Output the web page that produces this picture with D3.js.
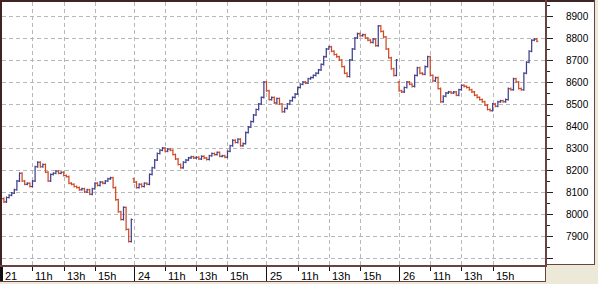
<!DOCTYPE html>
<html><head><meta charset="utf-8">
<script src="https://cdn.jsdelivr.net/npm/d3@7"></script>
<style>body{margin:0;background:#ece9d8;} svg{display:block;}</style>
</head><body>
<svg id="c" width="598" height="284"></svg>
<script>
// ---- data ----
const days = ["21", "24", "25", "26"];
const hourLabels = ["11h", "13h", "15h"];
const hourOffsets = [2, 4, 6];          // hours after the 9:00 session start
const sessionHours = 8.5;               // 9:00 - 17:30
const barHours = 1 / 6;                 // 10-minute bars
const firstOpens = [8090, 8160, 8600, 8600];
const closes21 = [8070,8055,8075,8085,8095,8110,8150,8185,8150,8135,8140,8125,8150,8215,8235,8215,8225,8190,8150,8180,8185,8195,8185,8190,8175,8170,8140,8135,8125,8120,8110,8115,8100,8110,8090,8115,8140,8130,8145,8140,8150,8160,8165,8120,8065,8010,7975,8030,7930,7875,7975];
const closes24 = [8145,8120,8135,8125,8140,8135,8180,8210,8245,8275,8290,8300,8285,8295,8290,8270,8250,8225,8210,8235,8245,8255,8260,8255,8258,8250,8262,8255,8248,8265,8275,8270,8280,8262,8265,8258,8285,8310,8335,8325,8340,8310,8320,8370,8395,8420,8450,8475,8500,8530,8600];
const closes25 = [8560,8520,8530,8505,8525,8500,8465,8480,8500,8515,8530,8545,8575,8590,8600,8595,8615,8620,8630,8640,8655,8680,8715,8750,8760,8740,8725,8715,8700,8670,8640,8625,8700,8750,8800,8820,8810,8815,8800,8790,8780,8795,8765,8855,8830,8805,8750,8710,8660,8630,8700];
const closes26 = [8560,8555,8575,8600,8590,8580,8630,8665,8640,8635,8670,8715,8630,8605,8620,8570,8510,8535,8550,8555,8550,8555,8540,8565,8585,8580,8575,8565,8555,8540,8530,8520,8510,8495,8475,8470,8500,8490,8510,8515,8510,8520,8570,8565,8615,8600,8570,8565,8640,8690,8740,8790,8795,8785];
const dayCloses = [closes21, closes24, closes25, closes26];
const yTicks = [7800,7900,8000,8100,8200,8300,8400,8500,8600,8700,8800,8900];
const yLabels = ["7900","8000","8100","8200","8300","8400","8500","8600","8700","8800","8900"];

// ---- layout ----
const svg = d3.select("#c");
const W = 598, H = 284;
const x = d3.scaleLinear().domain([0, 34.9]).range([1.3, 545.7]);
const y = d3.scaleLinear().domain([7900, 8900]).range([236, 16]);
const border = "#6a4242";
const up = "#40408e", down = "#cf4a24";

// panels
svg.append("rect").attr("x",0).attr("y",0).attr("width",W).attr("height",H).attr("fill","#ece9d8");
svg.append("rect").attr("x",0).attr("y",0).attr("width",595).attr("height",265).attr("fill","#fff");
svg.append("rect").attr("x",0).attr("y",265).attr("width",546).attr("height",17).attr("fill","#fff");

// grid
const grid = svg.append("g").attr("stroke","#b8b8b8").attr("stroke-dasharray","4,3").attr("shape-rendering","crispEdges");
yTicks.forEach(v => {
  grid.append("line").attr("x1",2).attr("x2",545).attr("y1",Math.round(y(v))+0.5).attr("y2",Math.round(y(v))+0.5);
});
const vGrid = [];
days.forEach((d,i) => {
  const s = i * sessionHours;
  if (i > 0) vGrid.push(s);
  hourOffsets.forEach(h => vGrid.push(s + h));
});
vGrid.forEach(t => {
  grid.append("line").attr("x1",Math.round(x(t))+0.5).attr("x2",Math.round(x(t))+0.5).attr("y1",2).attr("y2",265);
});

// bars (open-close bars with open tick left, close tick right)
const bars = svg.append("g").attr("stroke-linecap","butt");
dayCloses.forEach((cl, d) => {
  let o = firstOpens[d];
  cl.forEach((c, i) => {
    const t = d * sessionHours + i * barHours;
    const xc = x(t);
    const yo = y(o), yc = y(c);
    const col = c >= o ? up : down;
    const top = Math.min(yo, yc), bot = Math.max(yo, yc);
    bars.append("line").attr("x1", xc).attr("x2", xc).attr("y1", top - 1).attr("y2", bot + 1)
      .attr("stroke", col).attr("stroke-width", 1.25);
    bars.append("line").attr("x1", xc - 1.5).attr("x2", xc).attr("y1", yo).attr("y2", yo)
      .attr("stroke", col).attr("stroke-width", 1.1);
    bars.append("line").attr("x1", xc).attr("x2", xc + 1.5).attr("y1", yc).attr("y2", yc)
      .attr("stroke", col).attr("stroke-width", 1.1);
    o = c;
  });
});

// right axis
const ya = svg.append("g").attr("shape-rendering","crispEdges");
for (let v = 7800; v <= 8950; v += 50) {
  const major = v % 100 === 0;
  const yy = Math.round(y(v)) + 0.5;
  ya.append("line").attr("x1",546).attr("x2", major ? 553 : 550).attr("y1",yy).attr("y2",yy).attr("stroke","#222");
}
yLabels.forEach(l => {
  svg.append("text").attr("x",566).attr("y", y(+l) + 3.6).text(l)
    .attr("font-family","Liberation Sans, Arial, sans-serif").attr("font-size",10).attr("fill","#000");
});

// bottom axis
const xa = svg.append("g").attr("shape-rendering","crispEdges");
days.forEach((d,i) => {
  const s = i * sessionHours;
  const xd = Math.round(x(s));
  xa.append("line").attr("x1", xd+0.5).attr("x2", xd+0.5).attr("y1",266).attr("y2",282).attr("stroke","#111").attr("stroke-width", i===0 ? 3 : 1);
  svg.append("text").attr("x", xd + 4).attr("y", 279.5).text(d)
    .attr("font-family","Liberation Sans, Arial, sans-serif").attr("font-size",11).attr("fill","#000");
  hourOffsets.forEach((h,j) => {
    const xh = Math.round(x(s + h));
    xa.append("line").attr("x1", xh+0.5).attr("x2", xh+0.5).attr("y1",266).attr("y2",271).attr("stroke","#111");
    svg.append("text").attr("x", xh + 3).attr("y", 279.5).text(hourLabels[j])
      .attr("font-family","Liberation Sans, Arial, sans-serif").attr("font-size",11).attr("fill","#000");
  });
});

// borders
const b = svg.append("g").attr("fill","none").attr("shape-rendering","crispEdges");
b.append("line").attr("x1",0).attr("x2",595).attr("y1",0.5).attr("y2",0.5).attr("stroke","#3e2424").attr("stroke-width",2);
b.append("line").attr("x1",0.5).attr("x2",0.5).attr("y1",0).attr("y2",266).attr("stroke","#3e2424").attr("stroke-width",2);
b.append("line").attr("x1",546).attr("x2",546).attr("y1",0).attr("y2",267).attr("stroke",border).attr("stroke-width",2);
b.append("line").attr("x1",0).attr("x2",547).attr("y1",266).attr("y2",266).attr("stroke",border).attr("stroke-width",2);
b.append("line").attr("x1",0).attr("x2",546).attr("y1",281.5).attr("y2",281.5).attr("stroke",border).attr("stroke-width",1.5);
b.append("line").attr("x1",545.5).attr("x2",545.5).attr("y1",266).attr("y2",282).attr("stroke",border).attr("stroke-width",1);
b.append("line").attr("x1",594.5).attr("x2",594.5).attr("y1",0).attr("y2",265).attr("stroke",border).attr("stroke-width",1);
b.append("line").attr("x1",546).attr("x2",595).attr("y1",264.5).attr("y2",264.5).attr("stroke",border).attr("stroke-width",1);
</script>
</body></html>
